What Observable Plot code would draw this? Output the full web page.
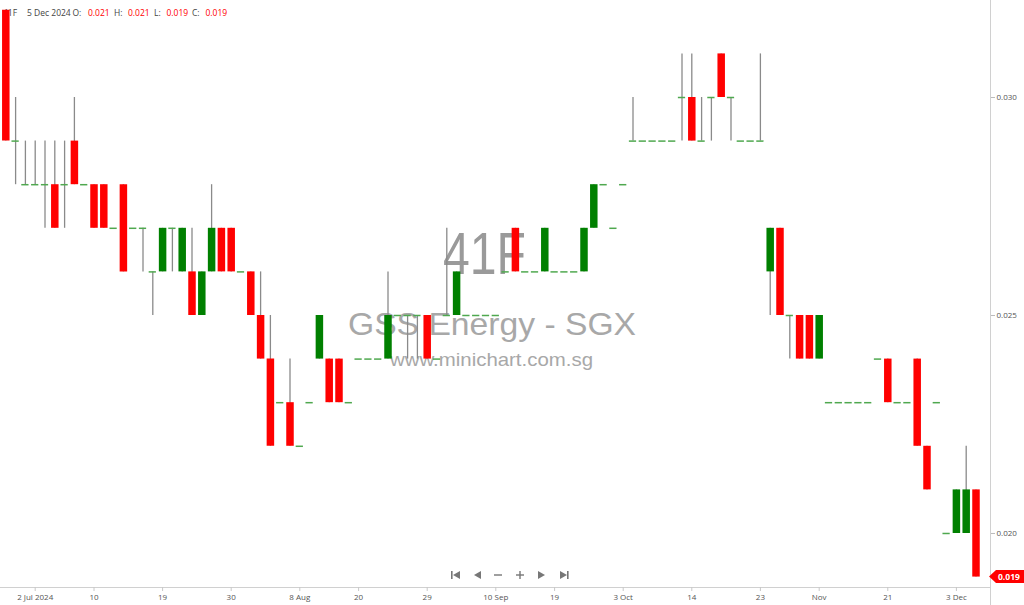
<!DOCTYPE html>
<html><head><meta charset="utf-8">
<script src="https://cdn.jsdelivr.net/npm/d3@7"></script>
<script src="https://cdn.jsdelivr.net/npm/@observablehq/plot@0.6"></script>
<style>body{margin:0;background:#fff;overflow:hidden} svg{display:block}</style>
</head><body><div id="chart"></div>
<script>
// Daily candles, 27 Jun 2024 .. 5 Dec 2024 (index = trading-day position)
const opens = [
.032,.029,.028,.028,.028,.028,.028,.029,.028,.028,
.028,.027,.028,.027,.027,.026,.026,.027,.026,.026,
.025,.026,.027,.027,.026,.026,.025,.024,.023,.023,
.022,.023,.024,.024,.024,.023,.024,.024,.024,.024,
.025,.025,.025,.025,.024,.025,.025,.025,.025,.025,
.025,.026,.027,.026,.026,.026,.026,.026,.026,.026,
.027,.028,.027,.028,.029,.029,.029,.029,.029,.030,
.030,.029,.030,.031,.030,.029,.029,.029,.026,.027,
.025,.025,.025,.024,.023,.023,.023,.023,.023,.024,
.024,.023,.023,.024,.022,.023,.020,.020,.020,.021];
const highs = [
.032,.030,.029,.029,.029,.029,.029,.030,.028,.028,
.028,.027,.028,.027,.027,.026,.027,.027,.027,.027,
.026,.028,.027,.027,.026,.026,.026,.025,.023,.024,
.022,.023,.025,.024,.024,.023,.024,.024,.024,.026,
.025,.025,.025,.025,.024,.027,.026,.025,.025,.025,
.025,.026,.027,.026,.026,.027,.026,.026,.026,.027,
.028,.028,.027,.028,.030,.029,.029,.029,.029,.031,
.031,.030,.030,.031,.030,.029,.029,.031,.027,.027,
.025,.025,.025,.025,.023,.023,.023,.023,.023,.024,
.024,.023,.023,.024,.022,.023,.020,.021,.022,.021];
const lows = [
.029,.028,.028,.028,.027,.027,.027,.028,.028,.027,
.027,.027,.026,.027,.026,.025,.026,.026,.026,.025,
.025,.026,.026,.026,.026,.025,.024,.022,.023,.022,
.022,.023,.024,.023,.023,.023,.024,.024,.024,.024,
.025,.024,.024,.024,.024,.025,.025,.025,.025,.025,
.025,.026,.026,.026,.026,.026,.026,.026,.026,.026,
.027,.028,.027,.028,.029,.029,.029,.029,.029,.029,
.029,.029,.029,.030,.029,.029,.029,.029,.025,.025,
.024,.024,.024,.024,.023,.023,.023,.023,.023,.024,
.023,.023,.023,.022,.021,.023,.020,.020,.020,.019];
const closes = [
.029,.029,.028,.028,.028,.027,.028,.028,.028,.027,
.027,.027,.026,.027,.027,.026,.027,.027,.027,.025,
.026,.027,.026,.026,.026,.025,.024,.022,.023,.022,
.022,.023,.025,.023,.023,.023,.024,.024,.024,.025,
.025,.025,.025,.024,.024,.025,.026,.025,.025,.025,
.025,.026,.026,.026,.026,.027,.026,.026,.026,.027,
.028,.028,.027,.028,.029,.029,.029,.029,.029,.030,
.029,.029,.030,.030,.030,.029,.029,.029,.027,.025,
.025,.024,.024,.025,.023,.023,.023,.023,.023,.024,
.023,.023,.023,.022,.021,.023,.020,.021,.021,.019];

const tickIndex  = [3, 9, 16, 23, 30, 36, 43, 50, 56, 63, 70, 77, 83, 90, 97];
const tickLabels = ["2 Jul 2024","10","19","30","8 Aug","20","29","10 Sep","19","3 Oct","14","23","Nov","21","3 Dec"];
const priceTicks = [0.020, 0.025, 0.030];
const lastPrice = 0.019;

const candles = opens.map((o, i) => ({i, o, h: highs[i], l: lows[i], c: closes[i]}));
const bodies = candles.filter(d => d.o !== d.c);
const flats = candles.filter(d => d.o === d.c);

const W = 1024, H = 605;
const GREEN = "#008000", RED = "#ff0000";

const plot = Plot.plot({
  width: W, height: H,
  marginLeft: 0, marginRight: 34, marginTop: 0, marginBottom: 18,
  style: {fontFamily: "'Open Sans', sans-serif", fontSize: "8px", color: "#555", background: "#fff"},
  x: {type: "linear", domain: [-0.541, 100.48], axis: null, label: null},
  y: {domain: [0.018761, 0.032225], axis: null, label: null},
  color: {type: "identity"},
  marks: [
    Plot.ruleY([0.018761], {stroke: "#d0d0d0", strokeWidth: 1}),
    Plot.axisX({ticks: tickIndex, tickFormat: d => tickLabels[tickIndex.indexOf(d)], label: null,
      tickSize: 4, tickPadding: 3, stroke: "#c8c8c8", fill: "#555", fontSize: 8, anchor: "bottom"}),
    Plot.axisY({anchor: "right", ticks: priceTicks, tickFormat: d3.format(".3f"), label: null,
      tickSize: 4, tickPadding: 2, stroke: "#bbb", fill: "#555", fontSize: 8}),
    Plot.ruleX(candles, {x: "i", y1: "l", y2: "h", stroke: "#8a8a8a", strokeWidth: 1.3}),
    Plot.ruleY(flats, {y: "o", x1: d => d.i - 0.37, x2: d => d.i + 0.37, stroke: "#4fa84f", strokeWidth: 1.5}),
    Plot.ruleX(bodies, {x: "i", y1: "o", y2: "c", stroke: d => d.c > d.o ? GREEN : RED, strokeWidth: 7.5})
  ]
});
document.getElementById("chart").appendChild(plot);

const svg = d3.select(plot);
const xs = plot.scale("x"), ys = plot.scale("y");
const xRight = xs.range[1];
const firstMark = plot.querySelector("g");

// watermark + header, placed behind candles
const back = d3.create("svg:g").attr("text-anchor", "start").node();
plot.insertBefore(back, firstMark);
const bg = d3.select(back);
const wm = "'Liberation Sans', Arial, sans-serif";
bg.append("text").attr("x", 443).attr("y", 274)
  .attr("font-family", wm).attr("font-size", 60).attr("textLength", 83).attr("lengthAdjust", "spacingAndGlyphs")
  .attr("fill", "#9a9a9a").text("41F");
bg.append("text").attr("x", 348).attr("y", 335)
  .attr("font-family", wm).attr("font-size", 32).attr("textLength", 288).attr("lengthAdjust", "spacingAndGlyphs")
  .attr("fill", "#a8a8a8").text("GSS Energy - SGX");
bg.append("text").attr("x", 390).attr("y", 366)
  .attr("font-family", wm).attr("font-size", 19).attr("textLength", 203).attr("lengthAdjust", "spacingAndGlyphs")
  .attr("fill", "#a8a8a8").text("www.minichart.com.sg");

const last = candles[candles.length - 1];
const header = bg.append("text").attr("y", 16).attr("font-size", 8.5)
  .attr("font-family", "'Open Sans', sans-serif").attr("fill", "#444");
const parts = [["41F", 3, "#444"], ["5 Dec 2024", 27, "#444"], ["O:", 72.5, "#444"], [d3.format(".3f")(last.o), 88, RED],
  ["H:", 114, "#444"], [d3.format(".3f")(last.h), 128, RED], ["L:", 154, "#444"], [d3.format(".3f")(last.l), 166.5, RED],
  ["C:", 192, "#444"], [d3.format(".3f")(last.c), 205.5, RED]];
for (const [t, x, f] of parts) header.append("tspan").attr("x", x).attr("fill", f).text(t);

// right axis border full height
svg.append("line").attr("x1", xRight + 0.5).attr("x2", xRight + 0.5).attr("y1", 0).attr("y2", H)
  .attr("stroke", "#d0d0d0");

// last price tag
const yl = ys.apply(lastPrice);
svg.append("path").attr("d", `M${xRight - 1},${yl} L${xRight + 6},${yl - 6.5} L${W},${yl - 6.5} L${W},${yl + 6.5} L${xRight + 6},${yl + 6.5} Z`)
  .attr("fill", RED);
svg.append("text").attr("x", xRight + 8).attr("y", yl + 3).attr("text-anchor", "start")
  .attr("font-size", 8.5).attr("font-weight", "bold")
  .attr("font-family", "'Open Sans', sans-serif").attr("fill", "#fff").text(d3.format(".3f")(lastPrice));

// navigation controls
const nav = svg.append("g").attr("fill", "#777").attr("stroke", "none");
const cy = 575;
nav.append("rect").attr("x", 451).attr("y", cy - 4).attr("width", 1.6).attr("height", 8);
nav.append("path").attr("d", `M460,${cy - 4} L453,${cy} L460,${cy + 4} Z`);
nav.append("path").attr("d", `M481,${cy - 4} L474,${cy} L481,${cy + 4} Z`);
nav.append("rect").attr("x", 494).attr("y", cy - 0.7).attr("width", 8).attr("height", 1.4);
nav.append("rect").attr("x", 516).attr("y", cy - 0.7).attr("width", 8).attr("height", 1.4);
nav.append("rect").attr("x", 519.3).attr("y", cy - 4).attr("width", 1.4).attr("height", 8);
nav.append("path").attr("d", `M538,${cy - 4} L545,${cy} L538,${cy + 4} Z`);
nav.append("path").attr("d", `M560,${cy - 4} L567,${cy} L560,${cy + 4} Z`);
nav.append("rect").attr("x", 567).attr("y", cy - 4).attr("width", 1.6).attr("height", 8);
</script>
</body></html>
